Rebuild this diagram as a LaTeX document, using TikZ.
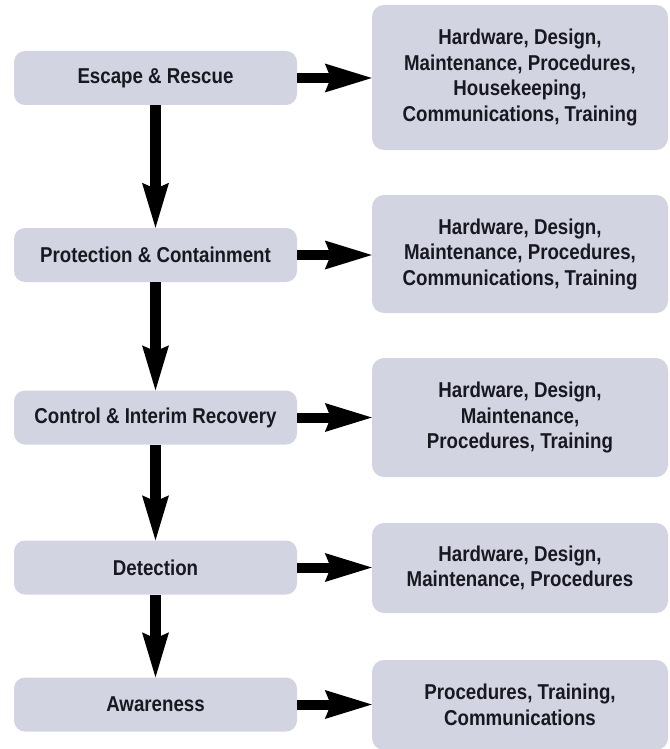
\documentclass[tikz,border=0pt]{standalone}
\usepackage{fontspec}
\setmainfont{Liberation Sans}[FakeStretch=0.87]
\usetikzlibrary{arrows.meta}
\definecolor{boxfill}{RGB}{211,212,226}
\definecolor{ink}{RGB}{24,24,32}
\begin{document}
\begin{tikzpicture}[x=1pt,y=-1pt,
  every node/.style={font=\fontsize{21.5}{25.5}\selectfont\bfseries, text=ink, align=center, inner sep=0pt},
  stage/.style={fill=boxfill, rounded corners=11pt, minimum width=283pt, minimum height=54pt},
  means/.style={fill=boxfill, rounded corners=12pt, minimum width=296pt},
  flowdown/.style={line width=11pt, -{Stealth[length=45pt,width=27pt,inset=6pt,line width=0pt]}},
  flowright/.style={line width=10pt, -{Stealth[length=47pt,width=29pt,inset=6pt,line width=0pt]}}]
  \useasboundingbox[fill=white] (0,0) rectangle (669,749);

  % stages of the response, top to bottom
  \node[stage] (esc)  at (155.5,78)    {Escape \& Rescue};
  \node[stage] (prot) at (155.5,255)   {Protection \& Containment};
  \node[stage] (ctrl) at (155.5,417.5) {Control \& Interim Recovery};
  \node[stage] (det)  at (155.5,567.5) {Detection};
  \node[stage] (awr)  at (155.5,704.5) {Awareness};

  % what each stage relies on
  \node[means, minimum height=145pt] (escM)  at (520,77.5)
    {Hardware, Design,\\Maintenance, Procedures,\\Housekeeping,\\Communications, Training};
  \node[means, minimum height=118pt] (protM) at (520,254)
    {Hardware, Design,\\Maintenance, Procedures,\\Communications, Training};
  \node[means, minimum height=119pt] (ctrlM) at (520,417.5)
    {Hardware, Design,\\Maintenance,\\Procedures, Training};
  \node[means, minimum height=90pt]  (detM)  at (520,568)
    {Hardware, Design,\\Maintenance, Procedures};
  \node[means, minimum height=90pt]  (awrM)  at (520,705)
    {Procedures, Training,\\Communications};

  % downward sequence
  \draw[flowdown] (esc.south)  -- (prot.north);
  \draw[flowdown] (prot.south) -- (ctrl.north);
  \draw[flowdown] (ctrl.south) -- (det.north);
  \draw[flowdown] (det.south)  -- (awr.north);

  % stage to its means
  \draw[flowright] (esc.east)  -- (escM.west |- esc.east);
  \draw[flowright] (prot.east) -- (protM.west |- prot.east);
  \draw[flowright] (ctrl.east) -- (ctrlM.west |- ctrl.east);
  \draw[flowright] (det.east)  -- (detM.west |- det.east);
  \draw[flowright] (awr.east)  -- (awrM.west |- awr.east);
\end{tikzpicture}
\end{document}
